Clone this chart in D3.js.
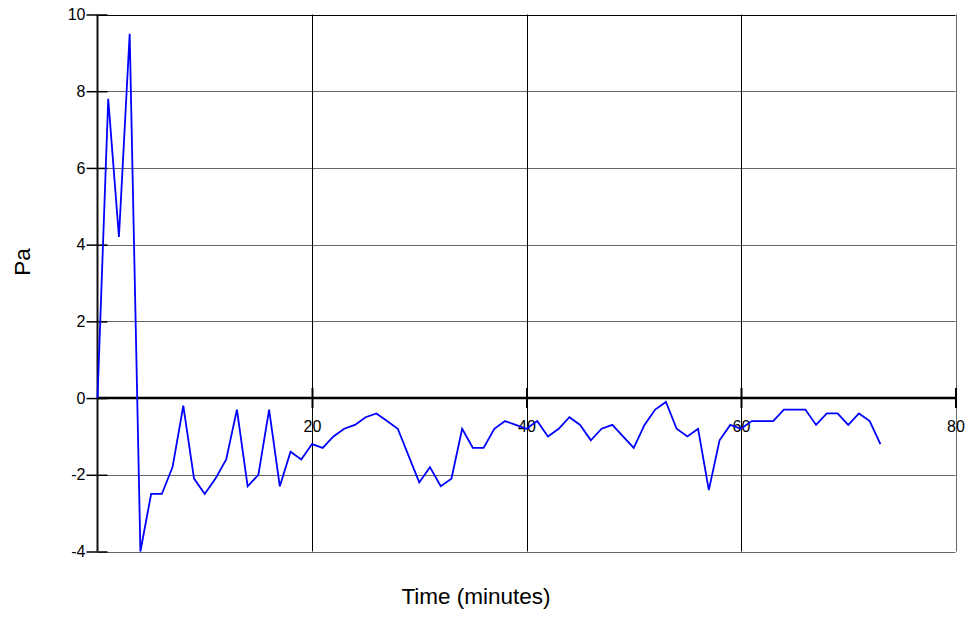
<!DOCTYPE html>
<html>
<head>
<meta charset="utf-8">
<script src="https://cdn.jsdelivr.net/npm/d3@7"></script>
<style>
  body { margin: 0; background: #fff; }
  svg { font-family: "Liberation Sans", Arial, sans-serif; }
</style>
</head>
<body>
<div id="chart"></div>
<script>
// minutes and pressure readings (Pa)
var minutes = d3.range(0, 74);
var pressure = [0, 7.8, 4.2, 9.5, -4.0, -2.5, -2.5, -1.8, -0.2, -2.1,
  -2.5, -2.1, -1.6, -0.3, -2.3, -2.0, -0.3, -2.3, -1.4, -1.6,
  -1.2, -1.3, -1.0, -0.8, -0.7, -0.5, -0.4, -0.6, -0.8, -1.5,
  -2.2, -1.8, -2.3, -2.1, -0.8, -1.3, -1.3, -0.8, -0.6, -0.7,
  -0.8, -0.6, -1.0, -0.8, -0.5, -0.7, -1.1, -0.8, -0.7, -1.0,
  -1.3, -0.7, -0.3, -0.1, -0.8, -1.0, -0.8, -2.4, -1.1, -0.7,
  -0.8, -0.6, -0.6, -0.6, -0.3, -0.3, -0.3, -0.7, -0.4, -0.4,
  -0.7, -0.4, -0.6, -1.2];
var xTicks = [20, 40, 60, 80];
var yTicks = [-4, -2, 0, 2, 4, 6, 8, 10];

var width = 969;
var height = 618;

var svg = d3.select("#chart").append("svg")
    .attr("width", width)
    .attr("height", height);

// scales
var x = d3.scaleLinear().domain([0, 80]).range([97.5, 955.5]);
var y = d3.scaleLinear().domain([-4, 10]).range([551.5, 14.5]);

// horizontal grid
svg.append("g")
    .selectAll("line")
    .data(yTicks)
    .enter()
    .append("line")
    .attr("x1", x(0))
    .attr("x2", x(80))
    .attr("y1", function (d) { return Math.round(y(d)) + 0.5; })
    .attr("y2", function (d) { return Math.round(y(d)) + 0.5; })
    .attr("stroke", function (d) { return d == 10 ? "#000" : "#666"; })
    .attr("stroke-width", 1);

// vertical grid
svg.append("g")
    .selectAll("line")
    .data(xTicks)
    .enter()
    .append("line")
    .attr("x1", function (d) { return Math.round(x(d)) + 0.5; })
    .attr("x2", function (d) { return Math.round(x(d)) + 0.5; })
    .attr("y1", y(10))
    .attr("y2", y(-4))
    .attr("stroke", function (d) { return d == 80 ? "#666" : "#000"; })
    .attr("stroke-width", 1);

// y axis: ticks cross the axis line
var yAxis = svg.append("g")
    .attr("transform", "translate(" + x(0) + ",0)")
    .call(d3.axisLeft(y).tickValues(yTicks).tickSize(11).tickPadding(2)
        .tickFormat(function (d) { return String(d).replace("\u2212", "-"); }));
yAxis.select(".domain").remove();
yAxis.selectAll(".tick line")
    .attr("x1", -11)
    .attr("x2", 10)
    .attr("stroke", "#000")
    .attr("stroke-width", 1.5);
yAxis.selectAll(".tick text")
    .attr("font-size", 16)
    .attr("fill", "#000")
    .attr("dx", 1);
yAxis.append("line")
    .attr("y1", y(10))
    .attr("y2", y(-4))
    .attr("stroke", "#111")
    .attr("stroke-width", 2);

// x axis sits on the zero line
var xAxis = svg.append("g")
    .attr("transform", "translate(0," + Math.round(y(0)) + ")")
    .call(d3.axisBottom(x).tickValues(xTicks).tickSize(10).tickPadding(13));
xAxis.select(".domain").remove();
xAxis.selectAll(".tick line")
    .attr("y1", -10)
    .attr("y2", 10)
    .attr("stroke", "#000")
    .attr("stroke-width", 2);
xAxis.selectAll(".tick text")
    .attr("font-size", 16)
    .attr("fill", "#000");
xAxis.append("line")
    .attr("x1", x(0))
    .attr("x2", x(80))
    .attr("stroke", "#000")
    .attr("stroke-width", 2.5);

// data line
var line = d3.line()
    .x(function (d, i) { return x(minutes[i]); })
    .y(function (d) { return y(d); });

svg.append("path")
    .datum(pressure)
    .attr("d", line)
    .attr("fill", "none")
    .attr("stroke", "#0000ff")
    .attr("stroke-width", 1.8)
    .attr("stroke-linejoin", "miter");

// axis titles
svg.append("text")
    .attr("x", 476)
    .attr("y", 604)
    .attr("text-anchor", "middle")
    .attr("font-size", 22.5)
    .text("Time (minutes)");

svg.append("text")
    .attr("transform", "translate(30,262) rotate(-90)")
    .attr("text-anchor", "middle")
    .attr("font-size", 22.5)
    .text("Pa");
</script>
</body>
</html>
